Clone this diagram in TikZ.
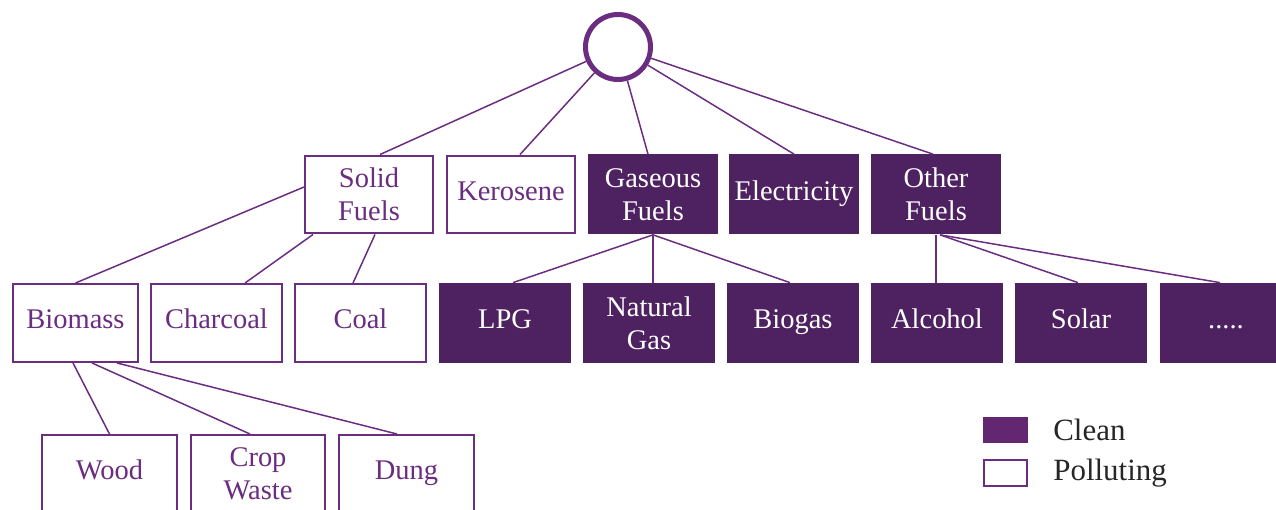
\documentclass[tikz,border=0pt]{standalone}
\usepackage{fontspec}
\setmainfont{Liberation Serif}
\usepackage{tikz}

\definecolor{fuelline}{HTML}{6A2D80}
\definecolor{fueldark}{HTML}{4E2260}
\definecolor{fuelclean}{HTML}{632670}
\definecolor{keygray}{HTML}{262626}

\begin{document}
\begin{tikzpicture}[
    every node/.style={font=\fontsize{16.2}{18.8}\selectfont},
    polluting/.style={rectangle, draw=fuelline, fill=white, text=fuelline,
        line width=1.4pt, minimum width=2.55cm, minimum height=1.55cm,
        inner sep=0pt, align=center},
    cleanbox/.style={rectangle, draw=none, fill=fueldark, text=white,
        minimum width=2.64cm, minimum height=1.6cm, inner sep=0pt,
        align=center},
    oneline/.style={text height=0.34cm, text depth=0.1cm},
    rootnode/.style={circle, draw=fuelline, fill=white,
        line width=2.85pt, minimum size=1.3cm, inner sep=0pt},
    branch/.style={draw=fuelline, line width=0.85pt},
    keytext/.style={anchor=west, inner sep=0pt,
        font=\fontsize{17.6}{20}\selectfont, text=keygray}
]
\useasboundingbox (0,0) rectangle (25.52,-10.2);

\node[rootnode] (root) at (12.36,-0.94) {};

\node[polluting] (solid)    at ( 7.38,-3.89) {Solid\\Fuels};
\node[polluting, oneline] (kerosene) at (10.22,-3.89) {Kerosene};
\node[cleanbox, minimum width=2.6cm] (gaseous) at (13.06,-3.89) {Gaseous\\Fuels};
\node[cleanbox, oneline, minimum width=2.6cm] (electricity) at (15.88,-3.89) {Electricity};
\node[cleanbox, minimum width=2.6cm] (other) at (18.72,-3.89) {Other\\Fuels};

\node[polluting, oneline, minimum width=2.49cm] (biomass)  at ( 1.51,-6.46) {Biomass};
\node[polluting, oneline, minimum width=2.61cm] (charcoal) at ( 4.33,-6.46) {Charcoal};
\node[polluting, oneline, minimum width=2.61cm] (coal)     at ( 7.21,-6.46) {Coal};
\node[cleanbox, oneline] (lpg)     at (10.10,-6.46) {LPG};
\node[cleanbox] (natgas)  at (12.98,-6.46) {Natural\\Gas};
\node[cleanbox, oneline] (biogas)  at (15.86,-6.46) {Biogas};
\node[cleanbox, oneline] (alcohol) at (18.74,-6.46) {Alcohol};
\node[cleanbox, oneline] (solar)   at (21.62,-6.46) {Solar};
\node[cleanbox, oneline] (more)    at (24.52,-6.46) {.....};

\node[polluting, oneline, minimum width=2.69cm] (wood)  at (2.19,-9.48) {Wood};
\node[polluting, minimum width=2.69cm] (crop)  at (5.16,-9.48) {Crop\\Waste};
\node[polluting, oneline, minimum width=2.69cm] (dung)  at (8.13,-9.48) {Dung};

\draw[branch] (root) -- ([xshift=0.22cm]solid.north);
\draw[branch] (root) -- ([xshift=0.18cm]kerosene.north);
\draw[branch] (root) -- ([xshift=-0.10cm]gaseous.north);
\draw[branch] (root) -- (electricity.north);
\draw[branch] (root) -- ([xshift=-0.06cm]other.north);

\draw[branch] ([yshift=0.15cm]solid.west) -- (biomass.north);
\draw[branch] ([xshift=0.18cm]solid.south west) -- ([xshift=0.57cm]charcoal.north);
\draw[branch] ([xshift=0.12cm]solid.south) -- ([xshift=-0.15cm]coal.north);

\draw[branch] (gaseous.south) -- ([xshift=0.16cm]lpg.north);
\draw[branch] (gaseous.south) -- (gaseous.south |- natgas.north);
\draw[branch] (gaseous.south) -- ([xshift=-0.06cm]biogas.north);

\draw[branch] (other.south) -- (other.south |- alcohol.north);
\draw[branch] ([xshift=0.08cm]other.south) -- ([xshift=-0.06cm]solar.north);
\draw[branch] ([xshift=0.08cm]other.south) -- ([xshift=-0.12cm]more.north);

\draw[branch] ([xshift=-0.05cm]biomass.south) -- (wood.north);
\draw[branch] ([xshift=0.33cm]biomass.south) -- ([xshift=-0.16cm]crop.north);
\draw[branch] ([xshift=0.83cm]biomass.south) -- ([xshift=-0.19cm]dung.north);

\node[rectangle, fill=fuelclean, minimum width=0.9cm, minimum height=0.52cm,
    inner sep=0pt] (keyclean) at (20.11,-8.60) {};
\node[keytext] at (21.06,-8.60) {Clean};
\node[rectangle, draw=fuelline, fill=white, line width=1.2pt,
    minimum width=0.86cm, minimum height=0.52cm, inner sep=0pt]
    (keypolluting) at (20.11,-9.46) {};
\node[keytext] at (21.06,-9.46) {Polluting};
\end{tikzpicture}
\end{document}
